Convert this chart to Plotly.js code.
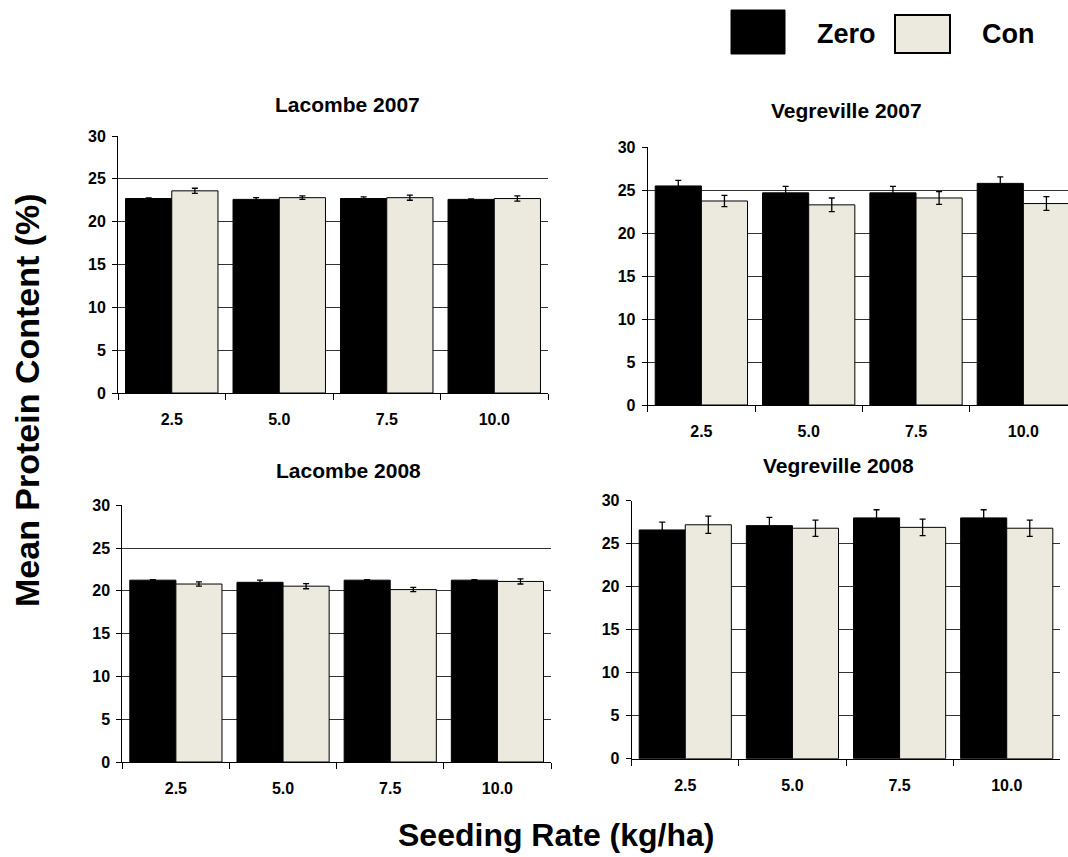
<!DOCTYPE html>
<html>
<head>
<meta charset="utf-8">
<script src="https://cdn.plot.ly/plotly-3.0.1.min.js"></script>
<style>html,body{margin:0;padding:0;background:#fff;}#chart{width:1068px;height:857px;}</style>
</head>
<body>
<div id="chart"></div>
<script>
// Categories
const seedingRates = ["2.5", "5.0", "7.5", "10.0"];
const seriesNames = ["Zero", "Con"];
const panelTitles = ["Lacombe 2007", "Vegreville 2007", "Lacombe 2008", "Vegreville 2008"];
const yTicks = [0, 5, 10, 15, 20, 25, 30];

// Lacombe 2007
const lac07Zero = [22.7, 22.6, 22.7, 22.6];
const lac07ZeroErr = [0.08, 0.2, 0.2, 0.06];
const lac07Con = [23.6, 22.8, 22.8, 22.7];
const lac07ConErr = [0.3, 0.2, 0.3, 0.3];

// Vegreville 2007
const veg07Zero = [25.5, 24.7, 24.7, 25.8];
const veg07ZeroErr = [0.65, 0.75, 0.75, 0.75];
const veg07Con = [23.75, 23.3, 24.1, 23.45];
const veg07ConErr = [0.65, 0.8, 0.75, 0.8];

// Lacombe 2008
const lac08Zero = [21.25, 21.0, 21.25, 21.25];
const lac08ZeroErr = [0.05, 0.25, 0.05, 0.05];
const lac08Con = [20.8, 20.55, 20.15, 21.1];
const lac08ConErr = [0.25, 0.3, 0.25, 0.3];

// Vegreville 2008
const veg08Zero = [26.6, 27.1, 28.0, 28.0];
const veg08ZeroErr = [0.9, 0.95, 0.95, 0.95];
const veg08Con = [27.2, 26.8, 26.9, 26.8];
const veg08ConErr = [1.0, 0.95, 0.95, 0.95];

const zeroColor = "#000000";
const conColor = "#ECEADF";
const FONT = "Liberation Sans, Arial, sans-serif";

const panels = [
  {zero: lac07Zero, zeroErr: lac07ZeroErr, con: lac07Con, conErr: lac07ConErr},
  {zero: veg07Zero, zeroErr: veg07ZeroErr, con: veg07Con, conErr: veg07ConErr},
  {zero: lac08Zero, zeroErr: lac08ZeroErr, con: lac08Con, conErr: lac08ConErr},
  {zero: veg08Zero, zeroErr: veg08ZeroErr, con: veg08Con, conErr: veg08ConErr}
];

const W = 1068, H = 857;
// pixel boxes [left, right, top, bottom] of each plot area
const boxes = [
  [118, 548, 136, 393],
  [647.7, 1068, 147.3, 405],
  [122.3, 551, 505.3, 762],
  [631.7, 1060.3, 500.7, 758.7]
];
const xRanges = [[-0.5, 3.5], [-0.5, 3.416], [-0.5, 3.5], [-0.5, 3.5]];

const traces = [];
const layout = {
  width: W, height: H,
  margin: {l: 0, r: 0, t: 0, b: 0},
  paper_bgcolor: "#ffffff",
  plot_bgcolor: "#ffffff",
  barmode: "group",
  bargap: 0.14,
  bargroupgap: 0,
  showlegend: false,
  font: {family: FONT, color: "#000"},
  annotations: [],
  shapes: []
};

panels.forEach((p, i) => {
  const n = i + 1;
  const xa = n === 1 ? "x" : "x" + n;
  const ya = n === 1 ? "y" : "y" + n;
  const series = [
    {y: p.zero, err: p.zeroErr, color: zeroColor, name: seriesNames[0]},
    {y: p.con, err: p.conErr, color: conColor, name: seriesNames[1]}
  ];
  series.forEach(s => {
    traces.push({
      type: "bar",
      x: seedingRates,
      y: s.y,
      name: s.name,
      xaxis: xa, yaxis: ya,
      marker: {color: s.color, line: {color: "#000", width: 1}},
      error_y: {type: "data", array: s.err, visible: true, color: "#000", thickness: 1.3, width: 3},
      hoverinfo: "x+y+name"
    });
  });
  const b = boxes[i];
  const xKey = n === 1 ? "xaxis" : "xaxis" + n;
  const yKey = n === 1 ? "yaxis" : "yaxis" + n;
  layout[xKey] = {
    domain: [b[0] / W, b[1] / W],
    anchor: ya,
    type: "category",
    range: xRanges[i],
    showgrid: false,
    showline: true, linecolor: "#000", linewidth: 1,
    ticks: "outside", ticklen: 6, tickwidth: 1, tickcolor: "#000",
    tickson: "boundaries",
    ticklabelstandoff: 12,
    tickfont: {family: FONT, size: 16, weight: "bold", color: "#000"},
    zeroline: false,
    fixedrange: true
  };
  layout[yKey] = {
    domain: [1 - b[3] / H, 1 - b[2] / H],
    anchor: xa,
    range: [0, 30],
    tickvals: yTicks,
    showgrid: true, gridcolor: "#333", gridwidth: 1,
    showline: true, linecolor: "#000", linewidth: 1,
    ticks: "outside", ticklen: 5, tickwidth: 1, tickcolor: "#000",
    ticklabelstandoff: 3,
    tickfont: {family: FONT, size: 16, weight: "bold", color: "#000"},
    zeroline: false,
    fixedrange: true
  };
});

// panel titles
const titlePos = [[347.5, 104], [846, 110], [348, 470], [838, 465]];
panelTitles.forEach((t, i) => {
  layout.annotations.push({
    text: t, xref: "paper", yref: "paper",
    x: titlePos[i][0] / W, y: 1 - titlePos[i][1] / H,
    xanchor: "center", yanchor: "middle", showarrow: false,
    font: {family: FONT, size: 21, weight: "bold", color: "#000"}
  });
});

// axis titles
layout.annotations.push({
  text: "Seeding Rate (kg/ha)", xref: "paper", yref: "paper",
  x: 556 / W, y: 1 - 835 / H, xanchor: "center", yanchor: "middle", showarrow: false,
  font: {family: FONT, size: 32, weight: "bold", color: "#000"}
});
layout.annotations.push({
  text: "Mean Protein Content (%)", xref: "paper", yref: "paper",
  x: 27 / W, y: 1 - 400 / H, xanchor: "center", yanchor: "middle", showarrow: false,
  textangle: -90,
  font: {family: FONT, size: 34, weight: "bold", color: "#000"}
});

// legend (drawn manually to match the large keys)
layout.shapes.push({type: "rect", xref: "paper", yref: "paper",
  x0: 731 / W, x1: 785 / W, y0: 1 - 54 / H, y1: 1 - 10 / H,
  fillcolor: zeroColor, line: {color: "#000", width: 1}});
layout.shapes.push({type: "rect", xref: "paper", yref: "paper",
  x0: 895 / W, x1: 950 / W, y0: 1 - 53 / H, y1: 1 - 15 / H,
  fillcolor: conColor, line: {color: "#000", width: 2}});
layout.annotations.push({
  text: seriesNames[0], xref: "paper", yref: "paper",
  x: 846 / W, y: 1 - 34 / H, xanchor: "center", yanchor: "middle", showarrow: false,
  font: {family: FONT, size: 27, weight: "bold", color: "#000"}
});
layout.annotations.push({
  text: seriesNames[1], xref: "paper", yref: "paper",
  x: 1008 / W, y: 1 - 34 / H, xanchor: "center", yanchor: "middle", showarrow: false,
  font: {family: FONT, size: 27, weight: "bold", color: "#000"}
});

Plotly.newPlot("chart", traces, layout, {displayModeBar: false, staticPlot: true});
</script>
</body>
</html>
